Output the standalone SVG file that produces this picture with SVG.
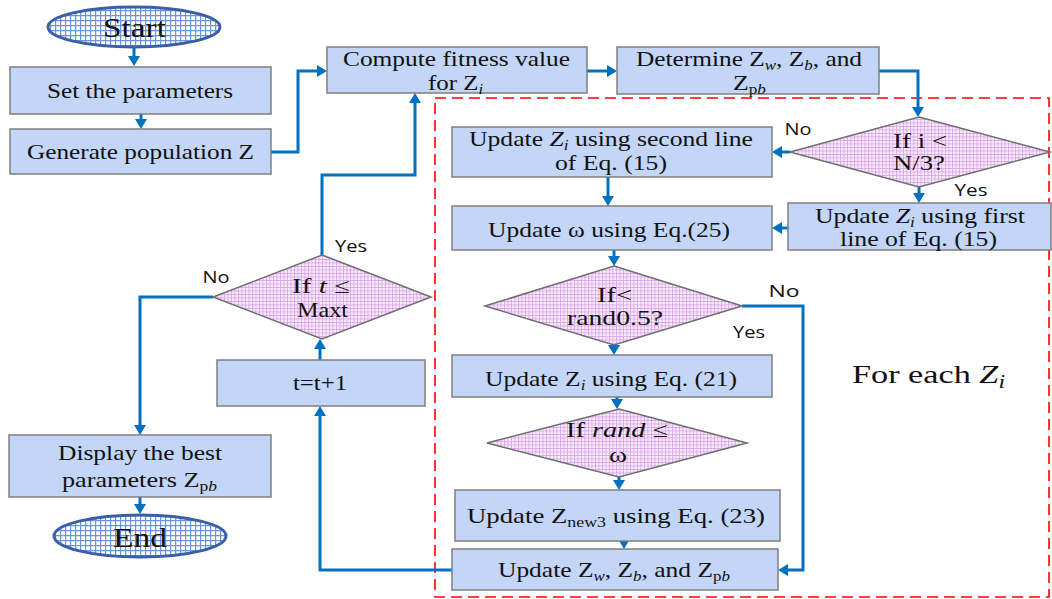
<svg xmlns="http://www.w3.org/2000/svg" width="1052" height="599" viewBox="0 0 1052 599">
  <style>
    .box { fill: #C3D6F8; stroke: #7F7F7F; stroke-width: 1.5; }
    .dia { fill: url(#gridPink); stroke: #6E6E6E; stroke-width: 1.5; }
    .term { fill: url(#gridBlue); stroke: #3A5FA8; stroke-width: 3; }
    .t { font-family: "Liberation Serif", "Times New Roman", serif; font-size: 21px; fill: #111; text-anchor: middle; }
    .big { font-size: 28px; }
    .lbl { font-family: "Open Sans", "Liberation Sans", sans-serif; font-size: 16px; fill: #111; text-anchor: middle; }
    .it { font-style: italic; }
    .sub { font-size: 14px; baseline-shift: -4px; }
    .conn { fill: none; stroke: #0070C0; stroke-width: 3; marker-end: url(#arr); }
    .zone { fill: none; stroke: #FF0000; stroke-width: 1.6; stroke-dasharray: 11 6; }
  </style>
  <defs>
    <pattern id="gridPink" width="3.5" height="3.5" patternUnits="userSpaceOnUse">
      <rect width="3.5" height="3.5" fill="#F8ECFB"/>
      <path d="M0 0.4H3.5M0.4 0V3.5" stroke="#DA9CEB" stroke-width="0.8"/>
    </pattern>
    <pattern id="gridBlue" width="5" height="5" patternUnits="userSpaceOnUse">
      <rect width="5" height="5" fill="#FFFFFF"/>
      <path d="M0 0.6H5M0.6 0V5" stroke="#6A95DC" stroke-width="1.2"/>
    </pattern>
    <marker id="arr" viewBox="0 0 10 12" refX="4" refY="6" markerWidth="10" markerHeight="12" markerUnits="userSpaceOnUse" orient="auto" preserveAspectRatio="none">
      <path d="M0,0 L10,6 L0,12 z" fill="#0070C0"/>
    </marker>
  </defs>

  <rect width="1052" height="599" fill="#FFFFFF"/>

  <!-- loop region for each Z_i -->
  <rect class="zone" x="435" y="98" width="614" height="499"/>

  <!-- connectors -->
  <g id="connectors">
    <path class="conn" d="M134,47 V60"/>
    <path class="conn" d="M141,114 V123"/>
    <path class="conn" d="M271,152 H298 V71 H321"/>
    <path class="conn" d="M587,71 H611"/>
    <path class="conn" d="M879,71 H918 V111"/>
    <path class="conn" d="M790,152 H778"/>
    <path class="conn" d="M919,187 V197"/>
    <path class="conn" d="M608,177 V200"/>
    <path class="conn" d="M788,228 H778"/>
    <path class="conn" d="M614,250 V260"/>
    <path class="conn" d="M614,345 V349"/>
    <path class="conn" d="M742,306 H803 V570 H784"/>
    <path class="conn" d="M617,397 V403"/>
    <path class="conn" d="M619,477 V484"/>
    <path class="conn" d="M624,541 V543"/>
    <path class="conn" d="M452,570 H320 V412"/>
    <path class="conn" d="M320,360 V345"/>
    <path class="conn" d="M322,255 V175 H415 V99"/>
    <path class="conn" d="M213,297 H140 V429"/>
    <path class="conn" d="M140,497 V508"/>
  </g>

  <!-- branch labels -->
  <g id="labels">
    <text class="lbl" x="798" y="135" textLength="27" lengthAdjust="spacingAndGlyphs">No</text>
    <text class="lbl" x="971" y="196" textLength="33" lengthAdjust="spacingAndGlyphs">Yes</text>
    <text class="lbl" x="784" y="297" textLength="31" lengthAdjust="spacingAndGlyphs">No</text>
    <text class="lbl" x="749" y="338" textLength="32" lengthAdjust="spacingAndGlyphs">Yes</text>
    <text class="lbl" x="351" y="252" textLength="32" lengthAdjust="spacingAndGlyphs">Yes</text>
    <text class="lbl" x="216" y="283" textLength="27" lengthAdjust="spacingAndGlyphs">No</text>
  </g>

  <g id="start">
    <ellipse class="term" cx="134" cy="27" rx="86" ry="20"/>
    <text class="t big" x="134.5" y="37" textLength="63" lengthAdjust="spacingAndGlyphs">Start</text>
  </g>

  <g id="set-params">
    <rect class="box" x="10" y="67" width="261" height="47"/>
    <text class="t" x="140" y="98" textLength="186" lengthAdjust="spacingAndGlyphs">Set the parameters</text>
  </g>

  <g id="generate">
    <rect class="box" x="10" y="129" width="261" height="45"/>
    <text class="t" x="140.5" y="159" textLength="227" lengthAdjust="spacingAndGlyphs">Generate population Z</text>
  </g>

  <g id="compute-fitness">
    <rect class="box" x="327" y="47" width="260" height="46"/>
    <text class="t" x="456.5" y="66" textLength="227" lengthAdjust="spacingAndGlyphs">Compute fitness value</text>
    <text class="t" x="455.5" y="90" textLength="55" lengthAdjust="spacingAndGlyphs">for Z<tspan class="sub it">i</tspan></text>
  </g>

  <g id="determine">
    <rect class="box" x="617" y="47" width="262" height="47"/>
    <text class="t" x="749" y="66" textLength="226" lengthAdjust="spacingAndGlyphs">Determine Z<tspan class="sub it">w</tspan>, Z<tspan class="sub it">b</tspan>, and</text>
    <text class="t" x="749.5" y="90" textLength="33" lengthAdjust="spacingAndGlyphs">Z<tspan class="sub">p</tspan><tspan class="sub it">b</tspan></text>
  </g>

  <g id="cond-i">
    <polygon class="dia" points="919,117 1050,152 919,187 790,152"/>
    <text class="t" x="920" y="148" textLength="54" lengthAdjust="spacingAndGlyphs">If i &lt;</text>
    <text class="t" x="919" y="170" textLength="52" lengthAdjust="spacingAndGlyphs">N/3?</text>
  </g>

  <g id="update-second">
    <rect class="box" x="452" y="127" width="320" height="50"/>
    <text class="t" x="611" y="146" textLength="284" lengthAdjust="spacingAndGlyphs">Update <tspan class="it">Z</tspan><tspan class="sub it">i</tspan> using second line</text>
    <text class="t" x="611" y="170" textLength="112" lengthAdjust="spacingAndGlyphs">of Eq. (15)</text>
  </g>

  <g id="update-first">
    <rect class="box" x="788" y="203" width="263" height="47"/>
    <text class="t" x="920" y="223" textLength="210" lengthAdjust="spacingAndGlyphs">Update <tspan class="it">Z</tspan><tspan class="sub it">i</tspan> using first</text>
    <text class="t" x="918.5" y="246" textLength="157" lengthAdjust="spacingAndGlyphs">line of Eq. (15)</text>
  </g>

  <g id="update-omega">
    <rect class="box" x="452" y="206" width="320" height="44"/>
    <text class="t" x="609" y="237" textLength="242" lengthAdjust="spacingAndGlyphs">Update ω using Eq.(25)</text>
  </g>

  <g id="cond-rand">
    <polygon class="dia" points="614,266 742,306 614,345 485,306"/>
    <text class="t" x="614.5" y="302" textLength="35" lengthAdjust="spacingAndGlyphs">If&lt;</text>
    <text class="t" x="615" y="325" textLength="96" lengthAdjust="spacingAndGlyphs">rand0.5?</text>
  </g>

  <g id="update-21">
    <rect class="box" x="452" y="355" width="320" height="42"/>
    <text class="t" x="611" y="386" textLength="252" lengthAdjust="spacingAndGlyphs">Update Z<tspan class="sub it">i</tspan> using Eq. (21)</text>
  </g>

  <g id="cond-omega">
    <polygon class="dia" points="619,409 747,443 619,477 487,443"/>
    <text class="t" x="617" y="437" textLength="102" lengthAdjust="spacingAndGlyphs">If <tspan class="it">rand</tspan> ≤</text>
    <text class="t" x="618" y="462" textLength="18" lengthAdjust="spacingAndGlyphs">ω</text>
  </g>

  <g id="update-23">
    <rect class="box" x="455" y="490" width="325" height="51"/>
    <text class="t" x="616" y="523" textLength="298" lengthAdjust="spacingAndGlyphs">Update Z<tspan class="sub">new3</tspan> using  Eq. (23)</text>
  </g>

  <g id="update-best">
    <rect class="box" x="452" y="549" width="326" height="41"/>
    <text class="t" x="614" y="577" textLength="232" lengthAdjust="spacingAndGlyphs">Update Z<tspan class="sub it">w</tspan>, Z<tspan class="sub it">b</tspan>, and Z<tspan class="sub">p</tspan><tspan class="sub it">b</tspan></text>
  </g>

  <g id="cond-t">
    <polygon class="dia" points="322,255 431,297 322,339 213,297"/>
    <text class="t" x="321" y="293" textLength="58" lengthAdjust="spacingAndGlyphs">If <tspan class="it">t</tspan> ≤</text>
    <text class="t" x="322.5" y="317" textLength="51" lengthAdjust="spacingAndGlyphs">Maxt</text>
  </g>

  <g id="increment-t">
    <rect class="box" x="217" y="360" width="208" height="46"/>
    <text class="t" x="320" y="390" textLength="54" lengthAdjust="spacingAndGlyphs">t=t+1</text>
  </g>

  <g id="display">
    <rect class="box" x="9" y="435" width="262" height="62"/>
    <text class="t" x="140" y="460" textLength="164" lengthAdjust="spacingAndGlyphs">Display the best</text>
    <text class="t" x="139.5" y="487" textLength="155" lengthAdjust="spacingAndGlyphs">parameters Z<tspan class="sub">p</tspan><tspan class="sub it">b</tspan></text>
  </g>

  <g id="end">
    <ellipse class="term" cx="140" cy="536" rx="86" ry="21"/>
    <text class="t big" x="140" y="547" textLength="54" lengthAdjust="spacingAndGlyphs">End</text>
  </g>

  <text class="t" x="928.5" y="383" style="font-size:26px" textLength="153" lengthAdjust="spacingAndGlyphs">For each <tspan class="it">Z</tspan><tspan class="it" style="font-size:18px" baseline-shift="-5">i</tspan></text>
</svg>
